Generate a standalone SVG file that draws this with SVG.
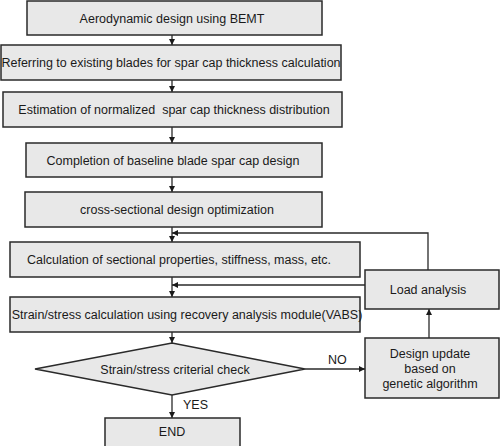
<svg xmlns="http://www.w3.org/2000/svg" width="500" height="446" viewBox="0 0 500 446">
<defs>
<style>
.box{fill:#e8e8e8;stroke:#2a2a2a;stroke-width:1.5}
.t{font-family:"Liberation Sans",Arial,sans-serif;font-size:12.5px;fill:#1a1a1a;text-anchor:middle}
.lbl{font-family:"Liberation Sans",Arial,sans-serif;font-size:12.5px;fill:#1a1a1a}
.c{fill:none;stroke:#2a2a2a;stroke-width:1.3}
</style>
<marker id="ah" viewBox="0 0 10 10" refX="10" refY="5" markerWidth="6" markerHeight="6" markerUnits="userSpaceOnUse" orient="auto">
<path d="M0,0 L10,5 L0,10 z" fill="#1a1a1a"/>
</marker>
</defs>
<rect width="500" height="446" fill="#ffffff"/>
<g id="connectors">
<line class="c" x1="172" y1="35" x2="172" y2="45" marker-end="url(#ah)"/>
<line class="c" x1="172" y1="80" x2="172" y2="92" marker-end="url(#ah)"/>
<line class="c" x1="172" y1="127" x2="172" y2="143" marker-end="url(#ah)"/>
<line class="c" x1="172" y1="177" x2="172" y2="192" marker-end="url(#ah)"/>
<line class="c" x1="172" y1="227" x2="172" y2="242" marker-end="url(#ah)"/>
<line class="c" x1="172" y1="277" x2="172" y2="297" marker-end="url(#ah)"/>
<line class="c" x1="172" y1="332" x2="172" y2="343" marker-end="url(#ah)"/>
<line class="c" x1="172" y1="395" x2="172" y2="418" marker-end="url(#ah)"/>
<line class="c" x1="305" y1="369" x2="365" y2="369" marker-end="url(#ah)"/>
<line class="c" x1="429" y1="338" x2="429" y2="309" marker-end="url(#ah)"/>
<polyline class="c" points="428,270 428,233 172,233" marker-end="url(#ah)"/>
<line class="c" x1="365" y1="285" x2="172" y2="285" marker-end="url(#ah)"/>
<text class="lbl" x="328" y="364">NO</text>
<text class="lbl" x="183" y="409">YES</text>
</g>
<g id="n1"><rect class="box" x="27" y="1" width="295" height="34"/><text class="t" x="172" y="22.5">Aerodynamic design using BEMT</text></g>
<g id="n2"><rect class="box" x="1" y="45" width="340" height="35"/><text class="t" x="171" y="67">Referring to existing blades for spar cap thickness calculation</text></g>
<g id="n3"><rect class="box" x="3" y="92" width="339" height="35"/><text class="t" x="174" y="114">Estimation of normalized&#160; spar cap thickness distribution</text></g>
<g id="n4"><rect class="box" x="26" y="143" width="296" height="34"/><text class="t" x="173" y="164.5">Completion of baseline blade spar cap design</text></g>
<g id="n5"><rect class="box" x="25" y="192" width="297" height="35"/><text class="t" x="177" y="214">cross-sectional design optimization</text></g>
<g id="n6"><rect class="box" x="10" y="242" width="350" height="35"/><text class="t" x="179" y="264">Calculation of sectional properties, stiffness, mass, etc.</text></g>
<g id="n7"><rect class="box" x="10" y="297" width="350" height="35"/><text class="t" x="187" y="319">Strain/stress calculation using recovery analysis module(VABS)</text></g>
<g id="n8"><polygon class="box" points="35,369 172,343 305,369 172,395"/><text class="t" x="175" y="373.5">Strain/stress criterial check</text></g>
<g id="n9"><rect class="box" x="105" y="418" width="135" height="30"/><text class="t" x="172" y="435.5">END</text></g>
<g id="n10"><rect class="box" x="365" y="270" width="134" height="39"/><text class="t" x="428" y="294">Load analysis</text></g>
<g id="n11"><rect class="box" x="365" y="338" width="134" height="60"/><text class="t" x="430" y="357.5">Design update</text><text class="t" x="430" y="372.5">based on</text><text class="t" x="430" y="387.5">genetic algorithm</text></g>
</svg>
